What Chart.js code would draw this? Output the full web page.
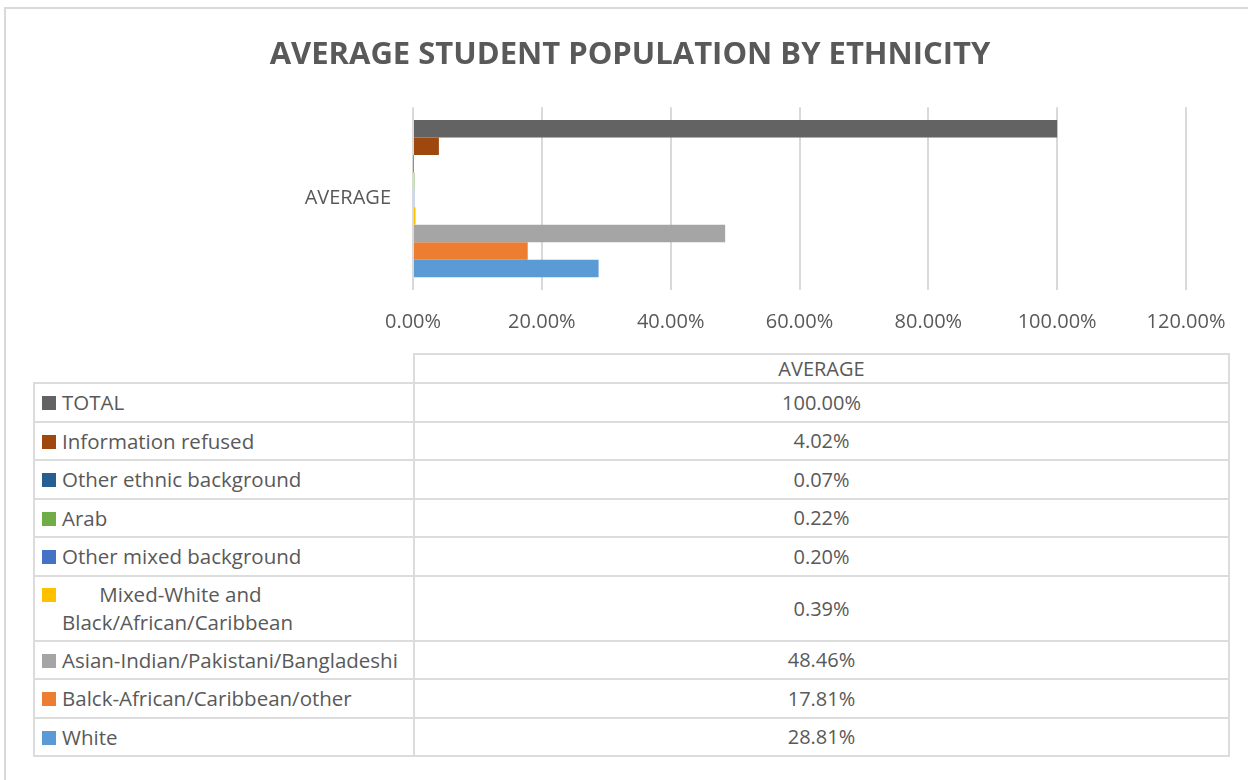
<!DOCTYPE html>
<html lang="en">
<head>
<meta charset="UTF-8">
<title>Average Student Population by Ethnicity</title>
<script src="https://cdn.jsdelivr.net/npm/chart.js"></script>
<style>
    body {
        margin: 0;
        width: 1248px;
        height: 780px;
        overflow: hidden;
        background: #fff;
        font-family: "Open Sans", sans-serif;
        color: #595959;
        position: relative;
    }
    .frame {
        position: absolute;
        left: 4px;
        top: 7px;
        width: 1320px;
        height: 820px;
        border: 2px solid #d9d9d9;
        box-sizing: border-box;
    }
    #chart {
        position: absolute;
        left: 0;
        top: 0;
    }
    table {
        position: absolute;
        left: 33px;
        top: 353px;
        border-collapse: collapse;
        table-layout: fixed;
        font-size: 20px;
    }
    td, th {
        border: 2px solid #dcdcdc;
        padding: 0;
        font-weight: normal;
    }
    th.blank {
        border: none;
    }
    tr.head {
        height: 29px;
    }
    tr.row {
        height: 38.5px;
    }
    td.name {
        padding: 3.5px 0 3.5px 27px;
        line-height: 28px;
        font-size: 20.5px;
        white-space: pre-wrap;
    }
    td.value {
        text-align: center;
    }
    .swatch {
        display: inline-block;
        width: 14px;
        height: 14px;
        margin-left: -20px;
        margin-right: 6px;
        vertical-align: 0px;
    }
</style>
</head>
<body>
<div class="frame"></div>
<canvas id="chart" width="1248" height="345"></canvas>

<table>
    <colgroup>
        <col style="width:380px">
        <col style="width:815px">
    </colgroup>
    <thead>
        <tr class="head">
            <th class="blank"></th>
            <th id="catHead"></th>
        </tr>
    </thead>
    <tbody id="dataRows"></tbody>
</table>

<script>
    // Data
    const categories = ['AVERAGE'];
    const seriesNames = [
        'TOTAL',
        'Information refused',
        'Other ethnic background',
        'Arab',
        'Other mixed background',
        '       Mixed-White and Black/African/Caribbean',
        'Asian-Indian/Pakistani/Bangladeshi',
        'Balck-African/Caribbean/other',
        'White'
    ];
    const seriesValues = [100.00, 4.02, 0.07, 0.22, 0.20, 0.39, 48.46, 17.81, 28.81];
    const axisMin = 0;
    const axisMax = 120;
    const axisStep = 20;

    const seriesColors = ['#636363', '#9e480e', '#255e91', '#70ad47', '#4472c4',
                          '#ffc000', '#a5a5a5', '#ed7d31', '#5b9bd5'];

    const pct = v => v.toFixed(2) + '%';
    const textColor = '#595959';

    const datasets = seriesNames.map((name, i) => ({
        label: name.trim(),
        data: [seriesValues[i]],
        backgroundColor: seriesColors[i],
        borderWidth: 0,
        categoryPercentage: 0.86,
        barPercentage: 1.0
    }));

    new Chart(document.getElementById('chart'), {
        type: 'bar',
        data: { labels: categories, datasets: datasets },
        options: {
            indexAxis: 'y',
            responsive: false,
            animation: false,
            layout: { padding: { left: 74, right: 62, top: 0, bottom: 0 } },
            plugins: {
                legend: { display: false },
                tooltip: { enabled: false },
                title: {
                    display: true,
                    text: 'AVERAGE STUDENT POPULATION BY ETHNICITY',
                    color: textColor,
                    font: { family: 'Open Sans', size: 31, weight: 'bold' },
                    padding: { top: 37, bottom: 33 }
                }
            },
            scales: {
                x: {
                    min: axisMin,
                    max: axisMax,
                    grid: { color: '#d9d9d9', lineWidth: 2, drawTicks: false },
                    border: { display: false },
                    ticks: {
                        stepSize: axisStep,
                        padding: 20,
                        color: textColor,
                        font: { family: 'Open Sans', size: 20 },
                        callback: v => pct(v)
                    },
                    afterFit: scale => { scale.height = 55; }
                },
                y: {
                    grid: { display: false },
                    border: { display: false },
                    ticks: {
                        padding: 14,
                        color: textColor,
                        font: { family: 'Open Sans', size: 20 }
                    },
                    afterFit: scale => { scale.width = 339; }
                }
            }
        }
    });

    // Data table under the chart
    document.getElementById('catHead').textContent = categories[0];
    const body = document.getElementById('dataRows');
    seriesNames.forEach((name, i) => {
        const row = document.createElement('tr');
        row.className = 'row';
        row.innerHTML = `
            <td class="name"><span class="swatch" style="background:${seriesColors[i]}"></span>${name}</td>
            <td class="value">${pct(seriesValues[i])}</td>
        `;
        body.appendChild(row);
    });
</script>
</body>
</html>
